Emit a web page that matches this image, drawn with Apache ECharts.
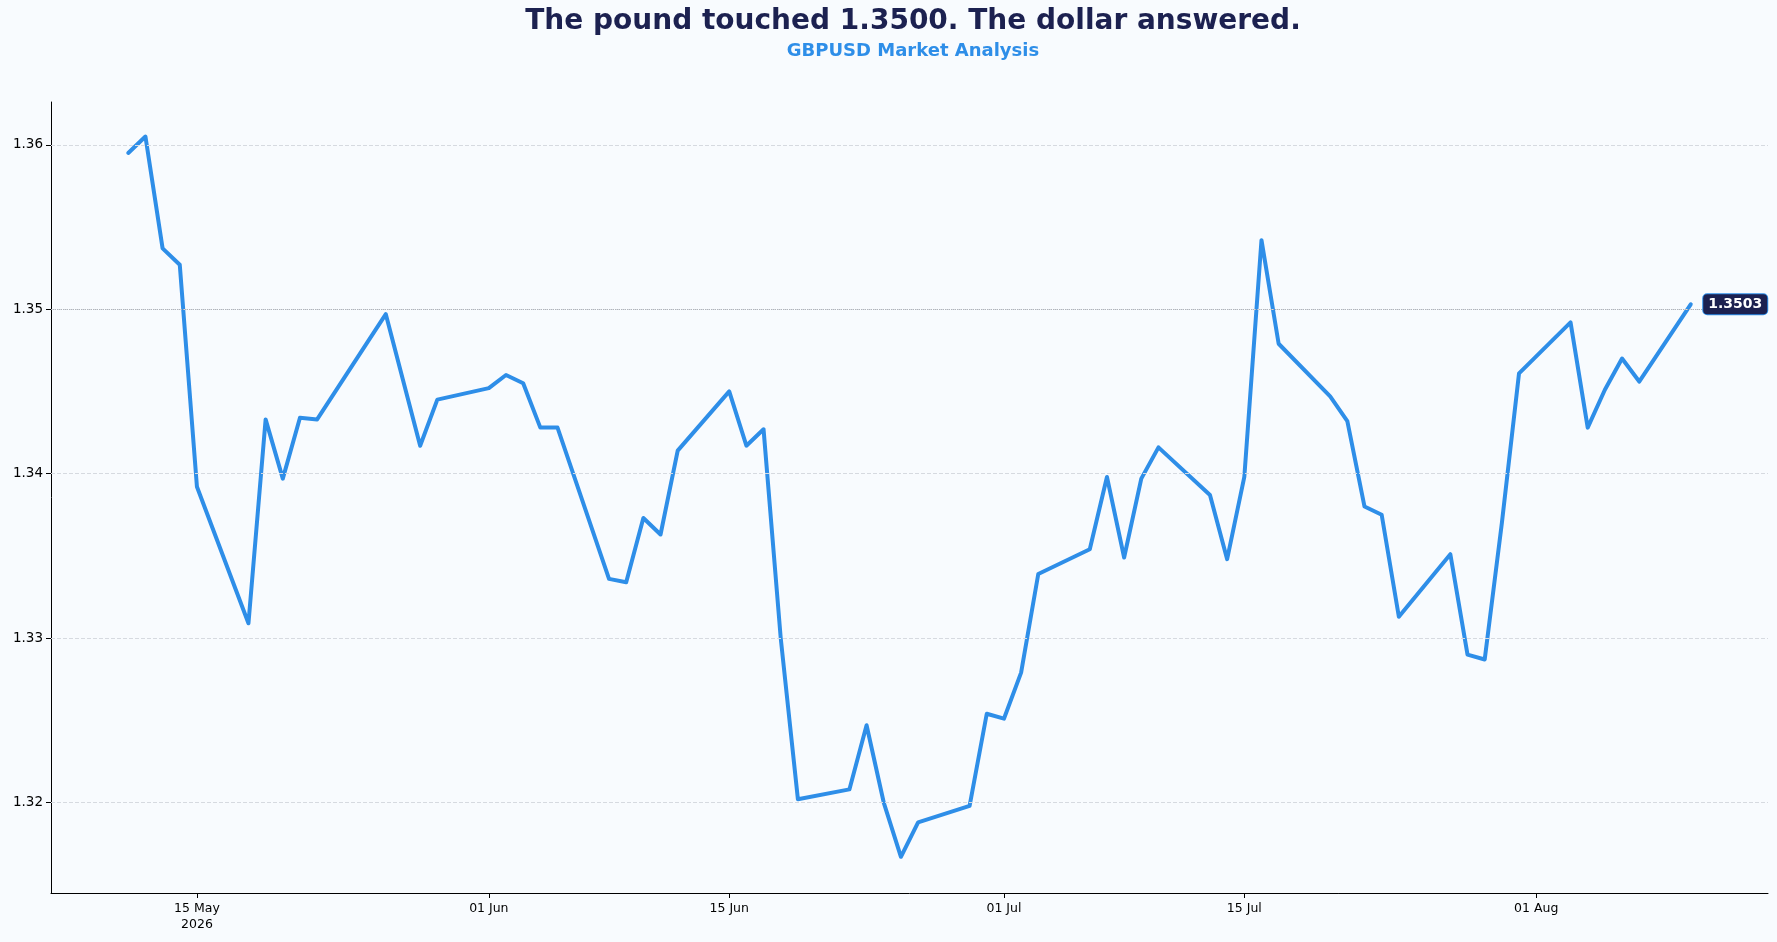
<!DOCTYPE html>
<html><head><meta charset="utf-8">
<script src="https://cdn.jsdelivr.net/npm/echarts@6/dist/echarts.min.js"></script>
<style>html,body{margin:0;padding:0;background:#f8fbfe}#c{width:1777px;height:942px}</style>
</head><body><div id="c"></div>
<script>
const dates = ["2026-05-11","2026-05-12","2026-05-13","2026-05-14","2026-05-15","2026-05-18","2026-05-19","2026-05-20","2026-05-21","2026-05-22","2026-05-25","2026-05-26","2026-05-28","2026-05-29","2026-06-01","2026-06-02","2026-06-03","2026-06-04","2026-06-05","2026-06-08","2026-06-09","2026-06-10","2026-06-11","2026-06-12","2026-06-15","2026-06-16","2026-06-17","2026-06-18","2026-06-19","2026-06-22","2026-06-23","2026-06-24","2026-06-25","2026-06-26","2026-06-29","2026-06-30","2026-07-01","2026-07-02","2026-07-03","2026-07-06","2026-07-07","2026-07-08","2026-07-09","2026-07-10","2026-07-13","2026-07-14","2026-07-15","2026-07-16","2026-07-17","2026-07-20","2026-07-21","2026-07-22","2026-07-23","2026-07-24","2026-07-27","2026-07-28","2026-07-29","2026-07-30","2026-07-31","2026-08-03","2026-08-04","2026-08-05","2026-08-06","2026-08-07","2026-08-10"];
const prices = [1.3595,1.3605,1.3537,1.3527,1.3392,1.3309,1.3433,1.3397,1.3434,1.3433,1.3481,1.3497,1.3417,1.3445,1.3452,1.3460,1.3455,1.3428,1.3428,1.3336,1.3334,1.3373,1.3363,1.3414,1.3450,1.3417,1.3427,1.3300,1.3202,1.3208,1.3247,1.3200,1.3167,1.3188,1.3198,1.3254,1.3251,1.3279,1.3339,1.3354,1.3398,1.3349,1.3397,1.3416,1.3387,1.3348,1.3398,1.3542,1.3479,1.3447,1.3432,1.3380,1.3375,1.3313,1.3351,1.3290,1.3287,1.3370,1.3461,1.3492,1.3428,1.3451,1.3470,1.3456,1.3503];
const tickDates = ["2026-05-15","2026-06-01","2026-06-15","2026-07-01","2026-07-15","2026-08-01"];
const yTicks = [1.32,1.33,1.34,1.35,1.36];
const ts = d => Date.parse(d + "T00:00:00Z");
const M = ["Jan","Feb","Mar","Apr","May","Jun","Jul","Aug","Sep","Oct","Nov","Dec"];
const chart = echarts.init(document.getElementById('c'));
const data = dates.map((d,i)=>[ts(d), prices[i]]);
chart.setOption({
  backgroundColor:'#f8fbfe',
  title:{text:'The pound touched 1.3500. The dollar answered.',subtext:'GBPUSD Market Analysis',left:908,textAlign:'center',top:3,
    textStyle:{fontFamily:'DejaVu Sans',fontSize:28,fontWeight:'bold',color:'#1c2150'},
    subtextStyle:{fontFamily:'DejaVu Sans',fontSize:18,fontWeight:'bold',color:'#2e8ee8'},itemGap:6},
  grid:{left:51,right:9,top:102,bottom:49},
  xAxis:{type:'value',min:ts("2026-05-06")+12*3600e3,max:ts("2026-08-14")+12*3600e3,
    axisLine:{lineStyle:{color:'#000'}},splitLine:{show:false},
    axisTick:{customValues:tickDates.map(ts),lineStyle:{color:'#000'}},
    axisLabel:{customValues:tickDates.map(ts),fontFamily:'DejaVu Sans',fontSize:12.5,color:'#000',lineHeight:16,
      formatter:(v)=>{const d=new Date(v);const s=String(d.getUTCDate()).padStart(2,'0')+' '+M[d.getUTCMonth()];return d.getUTCMonth()===4?s+'\n2026':s;}}},
  yAxis:{type:'value',min:1.3145,max:1.3626,
    axisLine:{show:true,lineStyle:{color:'#000'}},axisTick:{show:true,customValues:yTicks,lineStyle:{color:'#000'}},
    axisLabel:{customValues:yTicks,fontFamily:'DejaVu Sans',fontSize:13.5,color:'#000',formatter:v=>v.toFixed(2).replace(/0$/,'')},
    splitLine:{show:false}},
  series:[{type:'line',data:data,symbol:'none',lineStyle:{width:4,color:'#2e8ee8',cap:'round',join:'round'},
    markLine:{silent:true,symbol:'none',label:{show:false},
      data:[...yTicks.map(v=>({yAxis:v,lineStyle:{color:'#d6dae0',type:'dashed',width:1}})),{yAxis:1.35,lineStyle:{color:'#b0b4ba',type:'dotted',width:1}}]},
    markPoint:{symbol:'rect',symbolSize:1,data:[{coord:[ts("2026-08-10"),1.3503],
      label:{show:true,position:'right',distance:12,formatter:'1.3503',backgroundColor:'#1c2150',borderColor:'#2e8ee8',borderWidth:1,borderRadius:4,
        padding:[3,5],color:'#fff',fontFamily:'DejaVu Sans',fontWeight:'bold',fontSize:14}}],itemStyle:{color:'transparent'}}}]
});
</script></body></html>
